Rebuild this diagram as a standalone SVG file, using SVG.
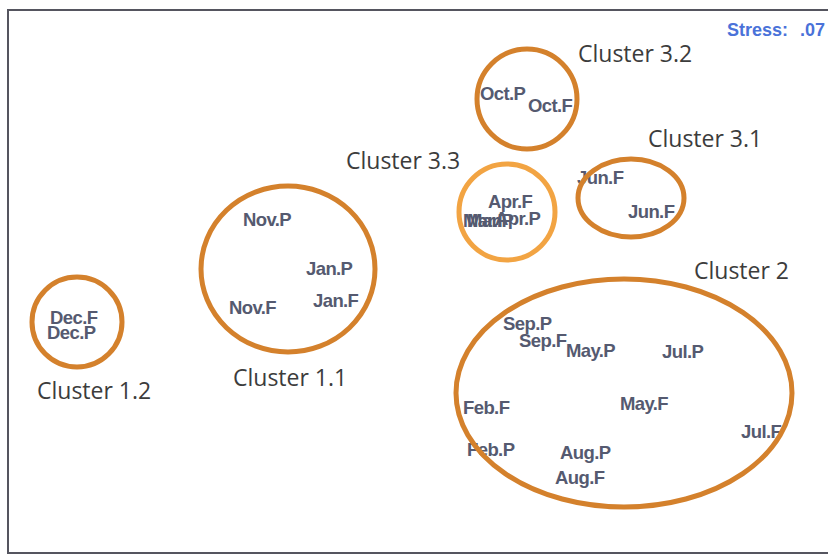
<svg xmlns="http://www.w3.org/2000/svg" width="828" height="555" viewBox="0 0 828 555">
<style>
.frame{fill:#fff;stroke:#55555f;stroke-width:2}
.ring{fill:none;stroke:#d4812c;stroke-width:5}
.ring2{fill:none;stroke:#f2a443;stroke-width:5}
.pt{font-family:"Liberation Sans",Arial,sans-serif;font-size:18.5px;font-weight:bold;fill:#555a70;letter-spacing:-0.6px}
.cl{font-family:"Open Sans","Noto Sans",sans-serif;font-size:23px;fill:#3c3c3c}
.st{font-family:"Liberation Sans",Arial,sans-serif;font-size:18px;font-weight:bold;fill:#4a72d9}
</style>
<rect width="828" height="555" fill="#fff"/>
<rect class="frame" x="8" y="10" width="830" height="543"/>
<text class="st" x="727" y="36">Stress:</text>
<text class="st" x="800" y="36">.07</text>
<g id="cluster-1-2">
<circle class="ring" cx="77" cy="322" r="45"/>
<text class="pt" x="50" y="324">Dec.F</text>
<text class="pt" x="47" y="339">Dec.P</text>
<text class="cl" x="37" y="399">Cluster 1.2</text>
</g>
<g id="cluster-1-1">
<ellipse class="ring" cx="288" cy="269" rx="87" ry="83"/>
<text class="pt" x="243" y="226">Nov.P</text>
<text class="pt" x="306" y="275">Jan.P</text>
<text class="pt" x="313" y="307">Jan.F</text>
<text class="pt" x="229" y="314">Nov.F</text>
<text class="cl" x="233" y="386">Cluster 1.1</text>
</g>
<g id="cluster-3-2">
<circle class="ring" cx="527" cy="99" r="50"/>
<text class="pt" x="480" y="100">Oct.P</text>
<text class="pt" x="528" y="112">Oct.F</text>
<text class="cl" x="578" y="62">Cluster 3.2</text>
</g>
<g id="cluster-3-3">
<text class="pt" x="463" y="227">Mar.F</text>
<text class="pt" x="467" y="227">Mar.P</text>
<text class="pt" x="495" y="225">Apr.P</text>
<text class="pt" x="488" y="208">Apr.F</text>
<circle class="ring2" cx="507" cy="212" r="48"/>
<text class="cl" x="346" y="169">Cluster 3.3</text>
</g>
<g id="cluster-3-1">
<text class="pt" x="577" y="184">Jun.F</text>
<text class="pt" x="628" y="218">Jun.F</text>
<ellipse class="ring" cx="631" cy="198" rx="53" ry="39"/>
<text class="cl" x="648" y="147">Cluster 3.1</text>
</g>
<g id="cluster-2">
<text class="pt" x="503" y="330">Sep.P</text>
<text class="pt" x="519" y="347">Sep.F</text>
<text class="pt" x="566" y="357">May.P</text>
<text class="pt" x="662" y="358">Jul.P</text>
<text class="pt" x="463" y="414">Feb.F</text>
<text class="pt" x="620" y="410">May.F</text>
<text class="pt" x="741" y="438">Jul.F</text>
<text class="pt" x="467" y="456">Feb.P</text>
<text class="pt" x="560" y="459">Aug.P</text>
<text class="pt" x="555" y="484">Aug.F</text>
<ellipse class="ring" cx="624" cy="393" rx="168" ry="114"/>
<text class="cl" x="694" y="279">Cluster 2</text>
</g>
<g id="connectors"/>
</svg>
